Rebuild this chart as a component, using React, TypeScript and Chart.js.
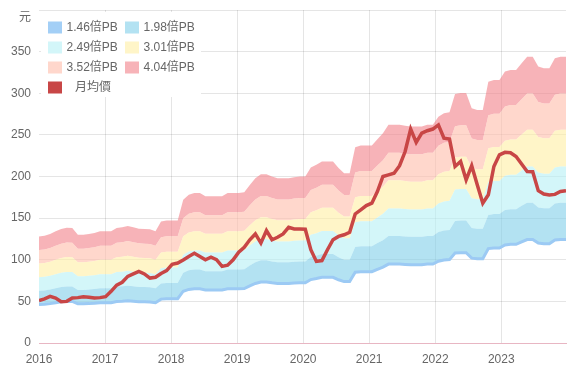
import React, { useEffect, useRef } from 'react';
import { Chart, registerables } from 'chart.js';

Chart.register(...registerables);

const FONT = '"Liberation Sans", Arial, "Noto Sans CJK TC", sans-serif';

// categories: monthly, Jan 2016 .. Dec 2023
const YEARS = [2016, 2017, 2018, 2019, 2020, 2021, 2022, 2023];
const MONTHS: string[] = [];
YEARS.forEach((y) => {
  for (let m = 1; m <= 12; m++) MONTHS.push(`${y}-${String(m).padStart(2, '0')}`);
});
const X_MIN = 2016;
const X_MAX = 2023.98;

// PB river bands
const PB_LABELS = ['1.46倍PB', '1.98倍PB', '2.49倍PB', '3.01倍PB', '3.52倍PB', '4.04倍PB'];
const PB_MULTIPLES = [1.46, 1.98, 2.49, 3.01, 3.52, 4.04];
const BAND_COLORS = ['#a3cff6', '#b3e2f2', '#d3f6f9', '#fff5c8', '#ffd7cc', '#f7b3b8'];
const BASE_LINE_COLOR = '#9ccaf4';

// 每股淨值 (book value per share), monthly
const BPS = [
  31.7, 31.9, 32.4, 33.2, 33.9, 34.3, 34.2, 32.2, 32.2, 32.4, 32.7, 33.2,
  33.2, 33.2, 34.2, 34.4, 34.8, 34.4, 34.0, 33.9, 33.8, 33.2, 36.1, 36.4,
  36.4, 36.4, 42.6, 44.1, 44.6, 44.6, 43.6, 43.6, 43.6, 43.6, 44.6, 44.6,
  44.6, 44.8, 47.0, 49.0, 50.2, 50.2, 49.5, 49.0, 49.0, 49.0, 49.3, 49.5,
  49.5, 52.2, 53.0, 54.0, 54.0, 54.0, 52.0, 50.5, 50.5, 58.2, 58.7, 58.7,
  58.7, 60.6, 62.4, 64.9, 64.9, 64.9, 64.6, 64.4, 64.4, 64.4, 64.9, 64.9,
  67.3, 68.3, 68.6, 74.0, 74.3, 74.3, 69.8, 69.3, 69.3, 77.7, 78.2, 78.2,
  80.7, 81.2, 81.2, 83.2, 85.1, 85.1, 82.2, 81.7, 81.7, 84.7, 85.1, 85.1,
];

// 月均價 (monthly average price)
const PRICE_LABEL = '月均價';
const PRICE_COLOR = '#c84646';
const PRICE = [
  51, 53, 56, 54, 49.5, 50, 54, 54.5, 55.5, 55, 54, 54.5,
  55.6, 62, 69.5, 73, 80, 83, 86, 83, 78, 79, 83.5, 87,
  94.5, 96, 99.7, 104, 107.7, 104, 100, 103, 100, 92, 93.5, 100,
  109, 115, 124, 131, 120, 135, 124, 127, 131, 139, 137, 137,
  136.6, 112, 98, 99, 112, 124, 128, 130, 133, 155, 160, 165,
  168, 182, 200, 202, 204, 213, 230, 257, 241, 252, 255, 257,
  262, 246, 245, 212, 218, 196, 213, 190, 168, 178, 212, 226,
  229, 228.6, 224, 215, 206, 205.8, 183, 179, 177.8, 178.5, 182, 183,
];

const Y_MIN = 0;
const Y_MAX = 400;
const Y_STEP = 50;
const Y_UNIT = '元';

const FILL_ALPHA = 0.6;
function fillColor(hex: string): string {
  const r = parseInt(hex.slice(1, 3), 16);
  const g = parseInt(hex.slice(3, 5), 16);
  const b = parseInt(hex.slice(5, 7), 16);
  const f = (c: number) => Math.max(0, Math.round(255 - (255 - c) / FILL_ALPHA));
  return `rgba(${f(r)},${f(g)},${f(b)},${FILL_ALPHA})`;
}

const xOf = (i: number) => X_MIN + (i * (X_MAX - X_MIN)) / (MONTHS.length - 1);

const legendPlugin = {
  id: 'innerLegend',
  afterDraw(chart: any) {
    const { ctx, chartArea } = chart;
    const left = chartArea.left;
    const top = chartArea.top;
    ctx.save();
    ctx.fillStyle = '#ffffff';
    ctx.fillRect(left + 2, top + 2, 160, 85);
    ctx.font = `12px ${FONT}`;
    ctx.textBaseline = 'middle';
    ctx.textAlign = 'left';
    const items = chart.data.datasets.map((ds: any, i: number) => ({
      label: ds.label,
      color: i < BAND_COLORS.length ? BAND_COLORS[i] : PRICE_COLOR,
      isLine: i >= BAND_COLORS.length,
    }));
    items.forEach((it: any, i: number) => {
      const col = it.isLine ? 0 : i % 2;
      const row = it.isLine ? 3 : Math.floor(i / 2);
      const bx = left + 9 + col * 77;
      const cy = top + 17.5 + row * 20;
      ctx.fillStyle = it.color;
      ctx.fillRect(bx, cy - 6, 14, 12);
      ctx.fillStyle = '#666666';
      ctx.fillText(it.label, bx + (it.isLine ? 27 : 18.5), cy);
    });
    ctx.restore();
  },
};

export default function App() {
  const ref = useRef<HTMLCanvasElement | null>(null);

  useEffect(() => {
    if (!ref.current) return;
    const bandSets = PB_MULTIPLES.map((pb, i) => ({
      type: 'line' as const,
      label: PB_LABELS[i],
      data: BPS.map((b, k) => ({ x: xOf(k), y: Math.round(b * pb * 100) / 100 })),
      borderColor: i === 0 ? BASE_LINE_COLOR : 'rgba(0,0,0,0)',
      borderWidth: i === 0 ? 3 : 0,
      backgroundColor: fillColor(BAND_COLORS[i]),
      fill: i === 0 ? false : '-1',
      pointRadius: 0,
      tension: 0,
      order: 1,
    }));
    const priceSet = {
      type: 'line' as const,
      label: PRICE_LABEL,
      data: PRICE.map((v, k) => ({ x: xOf(k), y: v })),
      borderColor: PRICE_COLOR,
      backgroundColor: PRICE_COLOR,
      borderWidth: 3.5,
      fill: false,
      pointRadius: 0,
      tension: 0,
      order: 0,
    };

    const chart = new Chart(ref.current, {
      type: 'line',
      data: { datasets: [...bandSets, priceSet] as any },
      options: {
        responsive: false,
        animation: false,
        layout: { padding: { top: 10, right: 17, left: 0, bottom: 0 } },
        plugins: { legend: { display: false }, tooltip: { enabled: false } },
        scales: {
          x: {
            type: 'linear',
            min: X_MIN,
            max: X_MAX,
            ticks: {
              stepSize: 1,
              includeBounds: false,
              autoSkip: false,
              maxRotation: 0,
              padding: 9,
              color: '#666666',
              font: { size: 12, family: FONT },
              callback: (v: any) => (Number.isInteger(v) ? String(v) : ''),
            },
            grid: {
              drawTicks: false,
              color: (c: any) =>
                c.tick && Number.isInteger(c.tick.value) && c.tick.value !== X_MIN
                  ? 'rgba(0,0,0,0.1)'
                  : 'rgba(0,0,0,0)',
            },
            border: { display: true, color: '#e8b6c3', width: 1 },
            afterFit: (s: any) => {
              s.height = 34;
              s.paddingLeft = 0;
              s.paddingRight = 0;
            },
          },
          y: {
            min: Y_MIN,
            max: Y_MAX,
            ticks: {
              stepSize: Y_STEP,
              padding: 8,
              color: '#666666',
              font: { size: 12, family: FONT },
              callback: (v: any) => (v === Y_MAX ? ['', Y_UNIT] : String(v)),
            },
            grid: {
              drawTicks: false,
              color: (c: any) => (c.tick && c.tick.value === 0 ? '#e8b6c3' : 'rgba(0,0,0,0.1)'),
            },
            border: { display: false },
            afterFit: (s: any) => {
              s.width = 39;
              s.paddingTop = 0;
              s.paddingBottom = 0;
            },
          },
        },
      },
      plugins: [legendPlugin],
    });
    return () => chart.destroy();
  }, []);

  return (
    <div style={{ position: 'absolute', left: 0, top: 0, width: 583, height: 377, background: '#fff' }}>
      <canvas ref={ref} width={583} height={377} style={{ display: 'block' }} />
    </div>
  );
}
